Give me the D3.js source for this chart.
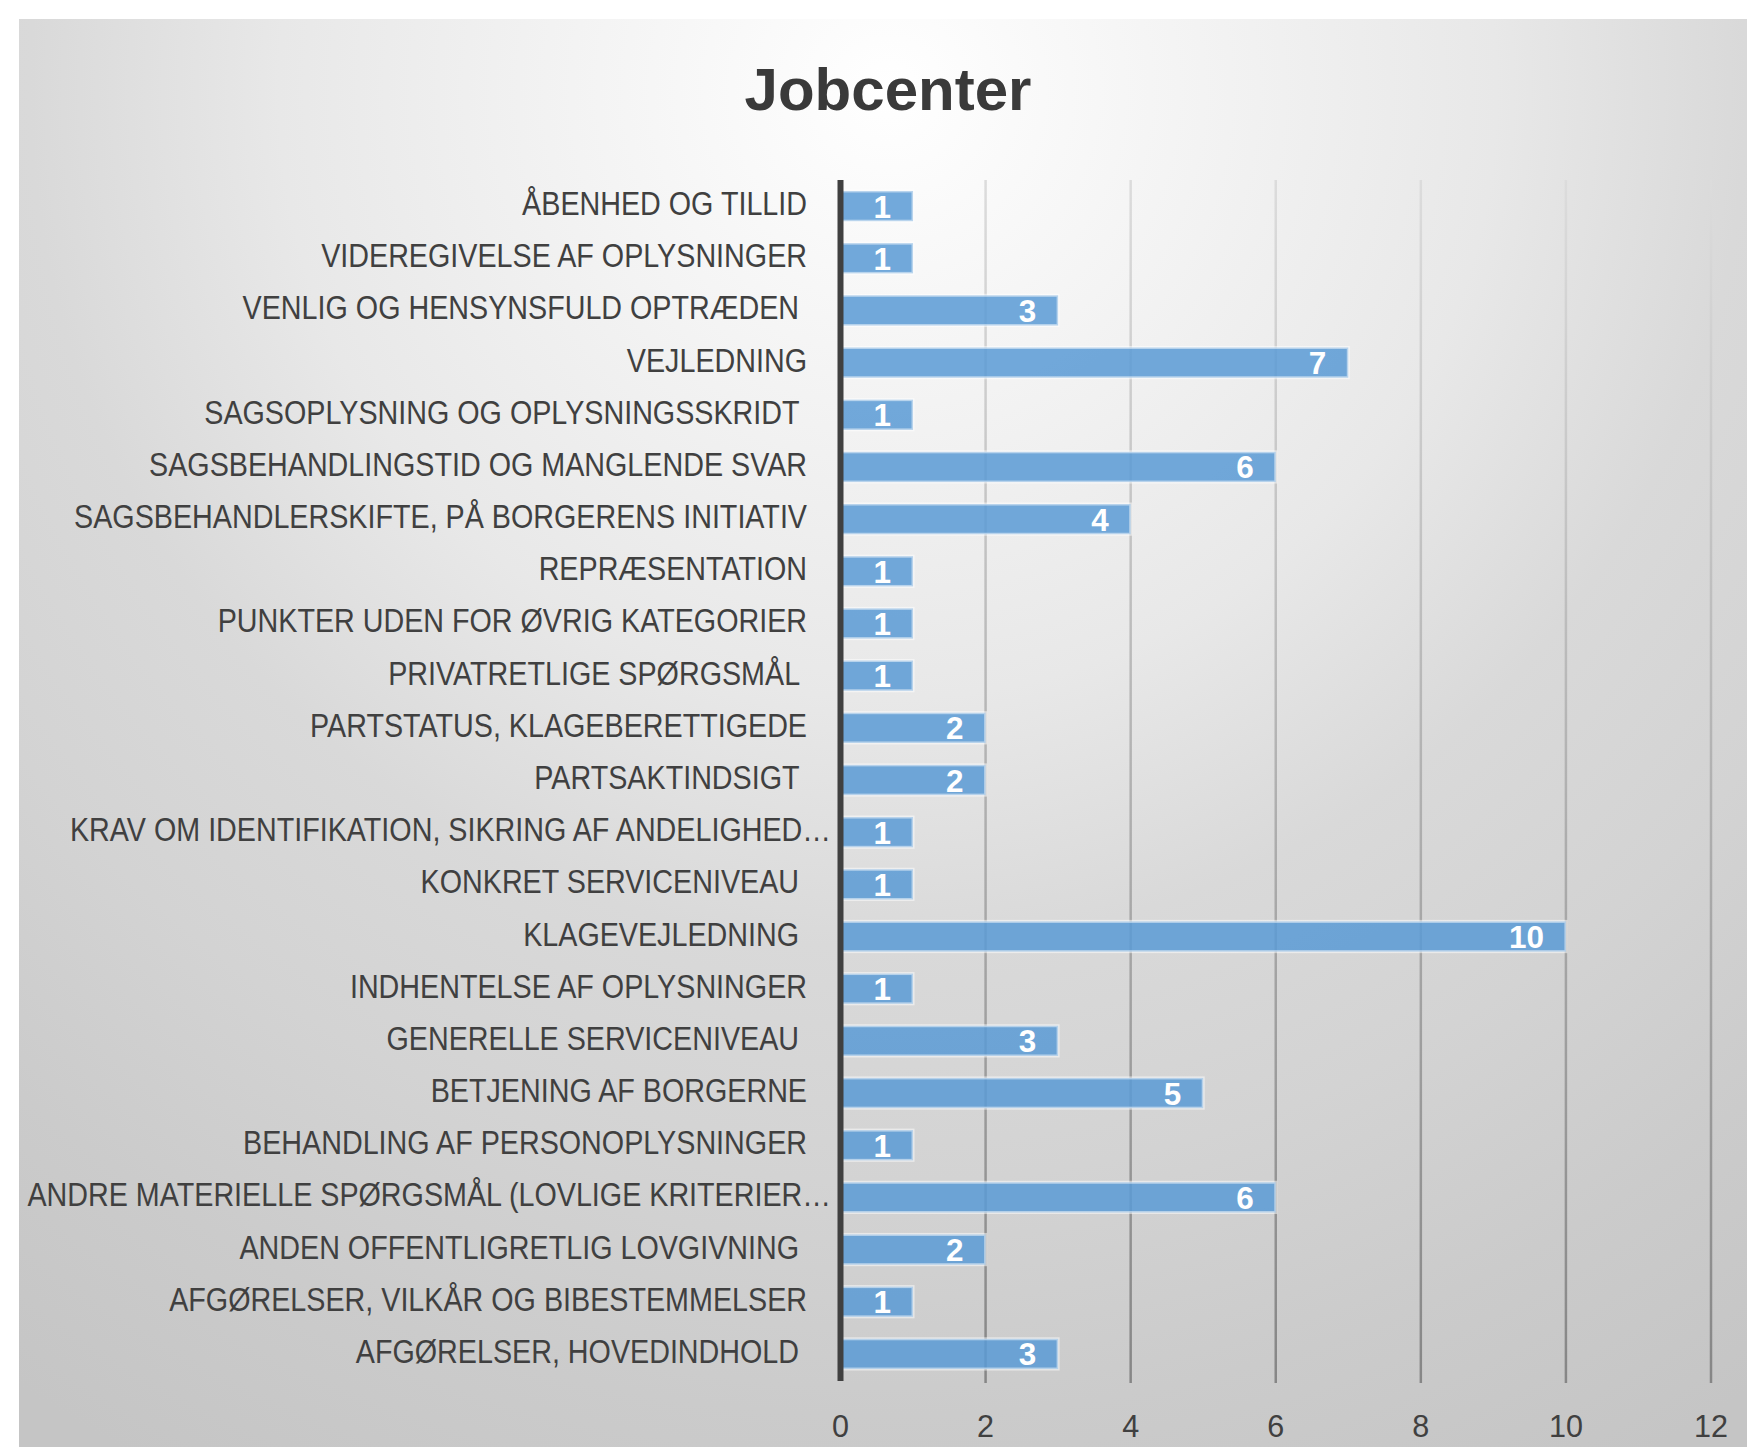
<!DOCTYPE html>
<html>
<head>
<meta charset="utf-8">
<script src="https://cdn.jsdelivr.net/npm/d3@7"></script>
<style>
  html, body { margin: 0; padding: 0; background: #ffffff; }
  svg { display: block; }
  text { white-space: pre; }
</style>
</head>
<body>
<svg id="chart" width="1747" height="1447"></svg>
<script>
// ---- data ----
const chartTitle = "Jobcenter";
const categories = [
  "ÅBENHED OG TILLID",
  "VIDEREGIVELSE AF OPLYSNINGER",
  "VENLIG OG HENSYNSFULD OPTRÆDEN ",
  "VEJLEDNING",
  "SAGSOPLYSNING OG OPLYSNINGSSKRIDT ",
  "SAGSBEHANDLINGSTID OG MANGLENDE SVAR",
  "SAGSBEHANDLERSKIFTE, PÅ BORGERENS INITIATIV",
  "REPRÆSENTATION",
  "PUNKTER UDEN FOR ØVRIG KATEGORIER",
  "PRIVATRETLIGE SPØRGSMÅL ",
  "PARTSTATUS, KLAGEBERETTIGEDE",
  "PARTSAKTINDSIGT ",
  "KRAV OM IDENTIFIKATION, SIKRING AF ANDELIGHED…",
  "KONKRET SERVICENIVEAU ",
  "KLAGEVEJLEDNING ",
  "INDHENTELSE AF OPLYSNINGER",
  "GENERELLE SERVICENIVEAU ",
  "BETJENING AF BORGERNE",
  "BEHANDLING AF PERSONOPLYSNINGER",
  "ANDRE MATERIELLE SPØRGSMÅL (LOVLIGE KRITERIER…",
  "ANDEN OFFENTLIGRETLIG LOVGIVNING ",
  "AFGØRELSER, VILKÅR OG BIBESTEMMELSER",
  "AFGØRELSER, HOVEDINDHOLD "
];
const values = [1, 1, 3, 7, 1, 6, 4, 1, 1, 1, 2, 2, 1, 1, 10, 1, 3, 5, 1, 6, 2, 1, 3];
const xTicks = [0, 2, 4, 6, 8, 10, 12];

// ---- layout ----
const W = 1747, H = 1447;
const plot = { left: 840.5, right: 1711, top: 180, bottom: 1380 };
const FONT = "'Liberation Sans Narrow', 'Liberation Sans', Arial, sans-serif";
const TXT = "#404040";

const svg = d3.select("#chart");
const defs = svg.append("defs");

// background radial gradient
const bg = defs.append("radialGradient")
  .attr("id", "bgGrad").attr("gradientUnits", "userSpaceOnUse")
  .attr("cx", 888).attr("cy", 90).attr("r", 1560);
[[0, "#ffffff"], [0.1, "#f9f9f9"], [0.39, "#e8e8e8"], [0.55, "#d9d9d9"],
 [0.7, "#d3d3d3"], [0.85, "#cbcbcb"], [1, "#c5c5c5"]]
  .forEach(([o, c]) => bg.append("stop").attr("offset", o).attr("stop-color", c));

const gg = defs.append("linearGradient")
  .attr("id", "gridGrad").attr("gradientUnits", "userSpaceOnUse")
  .attr("x1", 0).attr("y1", plot.top).attr("x2", 0).attr("y2", plot.bottom + 3);
gg.append("stop").attr("offset", 0).attr("stop-color", "#dcdcdc");
gg.append("stop").attr("offset", 1).attr("stop-color", "#868686");

svg.append("rect").attr("x", 19).attr("y", 19).attr("width", W - 19).attr("height", H - 19)
  .attr("fill", "url(#bgGrad)");

// scales
const x = d3.scaleLinear().domain([0, 12]).range([plot.left, plot.right]);
const y = d3.scaleBand().domain(categories).range([plot.top, plot.bottom])
  .paddingInner(0.42).paddingOuter(0.21);

// gridlines
svg.append("g").selectAll("line").data(xTicks.filter(t => t > 0)).join("line")
  .attr("x1", d => x(d)).attr("x2", d => x(d))
  .attr("y1", plot.top).attr("y2", plot.bottom + 3)
  .attr("stroke", "url(#gridGrad)").attr("stroke-width", 2.5);

// bars
svg.append("g").selectAll("rect").data(categories).join("rect")
  .attr("x", x(0))
  .attr("y", d => y(d))
  .attr("width", (d, i) => x(values[i]) - x(0))
  .attr("height", y.bandwidth())
  .attr("fill", "#5B9BD5").attr("fill-opacity", 0.86)
  .attr("stroke", "#ffffff").attr("stroke-opacity", 0.5).attr("stroke-width", 3);

// axis line
svg.append("line").attr("x1", x(0)).attr("x2", x(0))
  .attr("y1", plot.top).attr("y2", plot.bottom + 1)
  .attr("stroke", "#404040").attr("stroke-width", 6);

// helper to measure text for horizontal condensing
function measure(str, size, weight) {
  const t = svg.append("text").attr("font-family", FONT).attr("font-size", size)
    .attr("font-weight", weight || "normal").text(str);
  const w = t.node().getComputedTextLength();
  t.remove();
  return w;
}

// category labels
const labelSize = 33.5;
const refLabel = categories.find(c => c.startsWith("SAGSBEHANDLERSKIFTE"));
const labelSx = 733 / measure(refLabel, labelSize);
svg.append("g").selectAll("text").data(categories).join("text")
  .attr("font-family", FONT).attr("font-size", labelSize).attr("fill", TXT)
  .attr("text-anchor", "end")
  .attr("transform", d => {
    const xr = d.endsWith("…") ? 831 : 807;
    const yb = y(d) + y.bandwidth() / 2 + 9;
    return `translate(${xr},${yb}) scale(${labelSx},1)`;
  })
  .text(d => d);

// value labels
const valSize = 32;
const valSx = 35 / measure("10", valSize, "bold");
svg.append("g").selectAll("text").data(categories).join("text")
  .attr("font-family", FONT).attr("font-size", valSize).attr("font-weight", "bold")
  .attr("fill", "#ffffff")
  .attr("text-anchor", "end")
  .attr("transform", (d, i) => `translate(${x(values[i]) - 22},${y(d) + y.bandwidth() / 2 + 11.5}) scale(${valSx},1)`)
  .text((d, i) => values[i]);

// x tick labels
const tickSx = 34 / measure("10", valSize);
svg.append("g").selectAll("text").data(xTicks).join("text")
  .attr("font-family", FONT).attr("font-size", valSize).attr("fill", TXT)
  .attr("text-anchor", "middle")
  .attr("transform", d => `translate(${x(d)},1436.5) scale(${tickSx},1)`)
  .text(d => d);

// title
const titleSize = 60;
const titleSx = 287 / measure(chartTitle, titleSize, "bold");
svg.append("text")
  .attr("font-family", FONT).attr("font-size", titleSize).attr("font-weight", "bold")
  .attr("fill", "#3a3a3a").attr("text-anchor", "middle")
  .attr("transform", `translate(888,110) scale(${titleSx},1)`)
  .text(chartTitle);
</script>
</body>
</html>
